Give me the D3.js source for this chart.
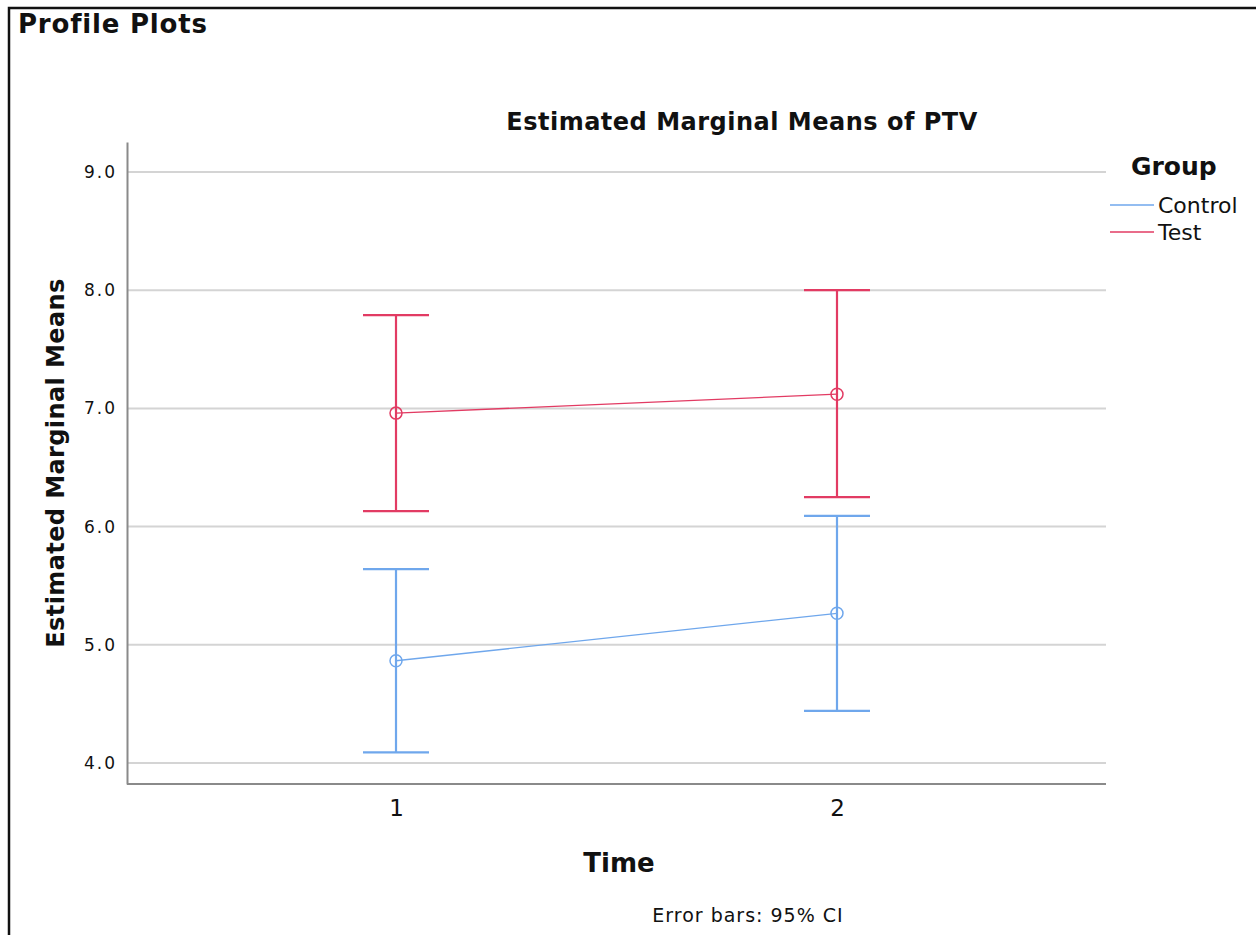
<!DOCTYPE html>
<html>
<head>
<meta charset="utf-8">
<script src="https://cdn.jsdelivr.net/npm/d3@7"></script>
<style>
  html, body { margin: 0; padding: 0; background: #fff; }
  svg { display: block; }
  text { font-family: "DejaVu Sans", Verdana, sans-serif; fill: #111; }
</style>
</head>
<body>
<svg id="chart" width="1256" height="935"></svg>
<script>
// Time points and groups
const times = ["1", "2"];
const groups = ["Control", "Test"];
const groupColors = ["#6fa7ec", "#e23b63"];

// Estimated marginal means with 95% confidence limits, per group and time
const controlMean  = [4.865, 5.266];
const controlLower = [4.09, 4.44];
const controlUpper = [5.64, 6.09];
const testMean  = [6.96, 7.12];
const testLower = [6.13, 6.25];
const testUpper = [7.79, 8.00];

const yTicks = [4.0, 5.0, 6.0, 7.0, 8.0, 9.0];

const series = [
  { name: groups[0], color: groupColors[0], mean: controlMean, lower: controlLower, upper: controlUpper },
  { name: groups[1], color: groupColors[1], mean: testMean, lower: testLower, upper: testUpper }
];

const svg = d3.select("#chart");

// Panel frame (top and left edges)
svg.append("path")
  .attr("d", "M9,935 V8 H1256")
  .attr("fill", "none").attr("stroke", "#111").attr("stroke-width", 2.5);

svg.append("text").attr("x", 18).attr("y", 33)
  .attr("font-size", 26).attr("font-weight", "bold").attr("letter-spacing", 0.8)
  .text("Profile Plots");

const plot = { left: 127, right: 1106, top: 142, bottom: 784 };

const x = d3.scalePoint().domain(times).range([plot.left, plot.right]).padding(0.61);
const y = d3.scaleLinear().domain([3.822, 9.254]).range([plot.bottom, plot.top]);

// Horizontal gridlines
svg.append("g").selectAll("line").data(yTicks).join("line")
  .attr("x1", plot.left).attr("x2", plot.right)
  .attr("y1", d => y(d)).attr("y2", d => y(d))
  .attr("stroke", "#d4d4d4").attr("stroke-width", 2);

// Y axis
const yAxis = svg.append("g").attr("transform", `translate(${plot.left},0)`)
  .call(d3.axisLeft(y).tickValues(yTicks).tickFormat(d3.format(".1f")).tickSize(0).tickPadding(10));
yAxis.select(".domain").attr("stroke", "#8a8a8a").attr("stroke-width", 2);
yAxis.selectAll("text").attr("font-size", 17).attr("letter-spacing", 2).attr("fill", "#222")
  .style("font-family", "'DejaVu Sans', Verdana, sans-serif");

// X axis
const xAxis = svg.append("g").attr("transform", `translate(0,${plot.bottom})`)
  .call(d3.axisBottom(x).tickSize(0).tickPadding(16));
xAxis.select(".domain").attr("stroke", "#8a8a8a").attr("stroke-width", 2)
  .attr("d", `M${plot.left},0H${plot.right}`);
xAxis.selectAll("text").attr("font-size", 23).attr("fill", "#111")
  .style("font-family", "'DejaVu Sans', Verdana, sans-serif");

// Error bars, profile lines and mean markers
const capHalf = 33;
series.forEach(s => {
  const g = svg.append("g");
  const idx = d3.range(times.length);
  g.selectAll("line.whisker").data(idx).join("line").attr("class", "whisker")
    .attr("x1", i => x(times[i])).attr("x2", i => x(times[i]))
    .attr("y1", i => y(s.lower[i])).attr("y2", i => y(s.upper[i]))
    .attr("stroke", s.color).attr("stroke-width", 2.2);
  ["lower", "upper"].forEach(k => {
    g.selectAll("line.cap-" + k).data(idx).join("line").attr("class", "cap-" + k)
      .attr("x1", i => x(times[i]) - capHalf).attr("x2", i => x(times[i]) + capHalf)
      .attr("y1", i => y(s[k][i])).attr("y2", i => y(s[k][i]))
      .attr("stroke", s.color).attr("stroke-width", 2.2);
  });
  const line = d3.line().x((d, i) => x(times[i])).y(d => y(d));
  g.append("path").datum(s.mean).attr("d", line)
    .attr("fill", "none").attr("stroke", s.color).attr("stroke-width", 1.3);
  g.selectAll("circle").data(s.mean).join("circle")
    .attr("cx", (d, i) => x(times[i])).attr("cy", d => y(d)).attr("r", 6)
    .attr("fill", "none").attr("stroke", s.color).attr("stroke-width", 1.5);
});

// Titles
svg.append("text").attr("x", 742).attr("y", 130).attr("text-anchor", "middle")
  .attr("font-size", 24).attr("font-weight", "bold").attr("letter-spacing", 0.5)
  .text("Estimated Marginal Means of PTV");
svg.append("text").attr("transform", "translate(64,463) rotate(-90)").attr("text-anchor", "middle")
  .attr("font-size", 24).attr("font-weight", "bold").attr("letter-spacing", 0.4)
  .text("Estimated Marginal Means");
svg.append("text").attr("x", 619).attr("y", 872).attr("text-anchor", "middle")
  .attr("font-size", 26).attr("font-weight", "bold").text("Time");
svg.append("text").attr("x", 748).attr("y", 922).attr("text-anchor", "middle")
  .attr("font-size", 19).attr("letter-spacing", 1).attr("fill", "#222")
  .text("Error bars: 95% CI");

// Legend
const legend = svg.append("g");
legend.append("text").attr("x", 1131).attr("y", 175)
  .attr("font-size", 25).attr("font-weight", "bold").text("Group");
series.forEach((s, i) => {
  const ly = 205 + i * 27;
  legend.append("line").attr("x1", 1110).attr("x2", 1154).attr("y1", ly).attr("y2", ly)
    .attr("stroke", s.color).attr("stroke-width", 1.5);
  legend.append("text").attr("x", 1158).attr("y", ly + 8)
    .attr("font-size", 22).text(s.name);
});
</script>
</body>
</html>
